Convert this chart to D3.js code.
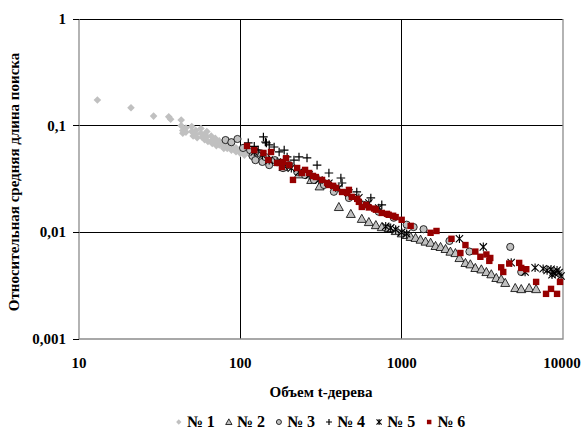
<!DOCTYPE html>
<html>
<head>
<meta charset="utf-8">
<script src="https://cdn.jsdelivr.net/npm/d3@7"></script>
<style>
  body { margin: 0; background: #fff; }
  svg { display: block; }
</style>
</head>
<body>
<svg id="chart" width="582" height="430" font-family="'Liberation Serif', 'DejaVu Serif', serif" font-weight="bold"></svg>
<script>
// series data: [tree size, relative mean search length]
const series1 = [[13,0.174],[21,0.147],[29,0.123],[36,0.121],[37,0.115],[43,0.113],[43,0.100],[44,0.090],[44,0.085],
  [46,0.095],[46,0.087],[50,0.098],[50,0.088],[51,0.080],[53,0.090],[53,0.083],[54,0.077],[57,0.094],[57,0.085],[58,0.078],
  [60,0.082],[60,0.074],[62,0.088],[62,0.079],[63,0.071],[66,0.080],[66,0.072],[67,0.068],[70,0.076],[70,0.069],[71,0.065],
  [74,0.072],[74,0.066],[78,0.070],[78,0.064],[79,0.061],[83,0.067],[83,0.061],[88,0.064],[88,0.059],[94,0.062],[94,0.057],
  [100,0.060],[100,0.055],[106,0.057],[106,0.053],[113,0.055],[120,0.052]];
const series2 = [[150,0.048],[185,0.041],[230,0.035],[275,0.031],[310,0.027],
  [408,0.0173],[484,0.0149],[566,0.0134],[626,0.0125],[692,0.0117],[753,0.0112],[831,0.0110],[918,0.0103],
  [1000,0.0098],[1074,0.00946],[1137,0.00907],[1219,0.00888],[1309,0.00855],[1406,0.0082],[1511,0.0080],[1622,0.00746],
  [1742,0.0073],[1871,0.00699],[2005,0.0066],[2154,0.0064],[2281,0.00575],[2485,0.00517],[2666,0.00502],[2862,0.00464],
  [3118,0.0045],[3350,0.00425],[3594,0.00405],[3860,0.00374],[4140,0.00364],[4385,0.00336],[5057,0.00301],[5510,0.00294],
  [6166,0.00301],[6813,0.00294]];
const series3 = [[81,0.0733],[88,0.070],[96,0.075],[104,0.0618],[115,0.059],[119,0.052],[124,0.0475],[129,0.0555],
  [137,0.0457],[143,0.0508],[151,0.0427],[164,0.0475],[184,0.040],[201,0.0427],[225,0.037],[252,0.0344],[286,0.031],
  [330,0.0278],[380,0.024],[471,0.021],[582,0.0181],[721,0.0156],[893,0.0137],[1074,0.0118],[1186,0.0112],[1367,0.0107],
  [1978,0.0083],[2630,0.0066],[4710,0.0073],[5510,0.00425]];
const series4 = [[112,0.0689],[122,0.064],[129,0.059],[139,0.0784],[143,0.0703],[145,0.0689],[151,0.066],[162,0.0631],
  [174,0.0567],[187,0.059],[195,0.0509],[215,0.0475],[231,0.0509],[259,0.0498],[299,0.0427],[354,0.036],[420,0.0323],
  [427,0.029],[527,0.0239],[644,0.021],[753,0.0181]];
const series5 = [[122,0.0567],[137,0.0531],[151,0.0475],[169,0.0457],[187,0.0418],[207,0.040],[231,0.0368],[267,0.0344],
  [307,0.031],[354,0.0288],[408,0.0261],[471,0.0234],[543,0.0211],[626,0.0188],[721,0.0169],[796,0.0114],[855,0.011],
  [918,0.0106],[1000,0.0100],[1074,0.0097],[2281,0.0087],[3206,0.0073],[4775,0.0052],[5821,0.00425],[6714,0.00465],
  [7530,0.00455],[7969,0.0044],[8430,0.0045],[8550,0.0040],[8670,0.00425],[8930,0.0041],[9186,0.0044],[9450,0.0042],[9730,0.0039]];
const series6 = [[110,0.0645],[122,0.059],[139,0.0555],[149,0.0477],[155,0.0566],[169,0.0447],[181,0.041],[184,0.0457],
  [192,0.0495],[201,0.0427],[212,0.031],[225,0.0401],[241,0.036],[252,0.0385],[267,0.036],[282,0.0338],[294,0.033],
  [321,0.031],[345,0.029],[354,0.0278],[376,0.0273],[392,0.0261],[427,0.0239],[459,0.0234],[471,0.025],[491,0.0215],
  [530,0.0206],[543,0.0193],[566,0.0173],[602,0.0181],[626,0.0171],[675,0.0167],[692,0.0163],[753,0.0152],[811,0.0149],
  [831,0.0146],[885,0.0143],[918,0.0139],[1000,0.0131],[1137,0.0115],[1511,0.0099],[1644,0.0103],[2036,0.0087],
  [2485,0.0076],[2312,0.0064],[2862,0.0066],[3075,0.0059],[3350,0.0062],[3542,0.00575],[3493,0.0054],[4140,0.0047],
  [4263,0.00425],[4642,0.0051],[5349,0.00517],[5510,0.00464],[5920,0.00451],[6813,0.00343],[7850,0.00265],[8430,0.00295],
  [9186,0.00265],[9580,0.00343]];

const xTicks = [10, 100, 1000, 10000];
const yTicks = [0.001, 0.01, 0.1, 1];
const yTickLabels = ["0,001", "0,01", "0,1", "1"];
const legendNames = ["№ 1", "№ 2", "№ 3", "№ 4", "№ 5", "№ 6"];

const grey = "#c0c0c0";
const red = "#960000";

const svg = d3.select("#chart");

const x = d3.scaleLog().domain([10, 10000]).range([79, 563]);
const y = d3.scaleLog().domain([0.001, 1]).range([339, 19]);

// gridlines
svg.append("g").selectAll("line")
  .data(yTicks.slice(1))
  .enter().append("line")
    .attr("x1", x(10)).attr("x2", x(10000))
    .attr("y1", d => y(d)).attr("y2", d => y(d))
    .attr("stroke", "#000").attr("stroke-width", 1).attr("shape-rendering", "crispEdges");

svg.append("g").selectAll("line")
  .data([100, 1000])
  .enter().append("line")
    .attr("x1", d => x(d)).attr("x2", d => x(d))
    .attr("y1", y(1)).attr("y2", y(0.001))
    .attr("stroke", "#000").attr("stroke-width", 1).attr("shape-rendering", "crispEdges");

// plot borders (grey)
svg.append("path")
  .attr("d", `M${x(10)},${y(1)}V${y(0.001)}H${x(10000)}V${y(1)}`)
  .attr("fill", "none").attr("stroke", "#8c8c8c").attr("stroke-width", 1.3);

// y ticks and labels
yTicks.forEach((t, i) => {
  svg.append("line")
    .attr("x1", x(10) - 6).attr("x2", x(10))
    .attr("y1", y(t)).attr("y2", y(t))
    .attr("stroke", "#000").attr("shape-rendering", "crispEdges");
  svg.append("text")
    .attr("x", 66).attr("y", y(t) + 5)
    .attr("text-anchor", "end")
    .attr("font-size", "15px")
    .text(yTickLabels[i]);
});

// x labels
svg.selectAll(".xlab")
  .data(xTicks)
  .enter().append("text")
    .attr("x", d => d === 10000 ? x(d) - 1 : x(d))
    .attr("y", 368)
    .attr("text-anchor", "middle")
    .attr("font-size", "15px")
    .text(d => d);

// axis titles
svg.append("text")
  .attr("x", 321).attr("y", 397)
  .attr("text-anchor", "middle")
  .attr("font-size", "15px")
  .text("Объем t-дерева");

svg.append("text")
  .attr("transform", "translate(19,182) rotate(-90)")
  .attr("text-anchor", "middle")
  .attr("font-size", "15px")
  .text("Относительная средняя длина поиска");

// marker shapes
const markers = [
  { data: series1, path: r => `M0,${-r}L${r},0L0,${r}L${-r},0Z`, r: 3.8, fill: grey, stroke: "none", sw: 0 },
  { data: series2, path: r => `M0,${-r}L${r},${r * 0.8}L${-r},${r * 0.8}Z`, r: 4.5, fill: grey, stroke: "#000", sw: 0.8 },
  { data: series3, path: r => `M${r},0A${r},${r} 0 1,1 ${-r},0A${r},${r} 0 1,1 ${r},0Z`, r: 3.6, fill: grey, stroke: "#000", sw: 0.8 },
  { data: series4, path: r => `M${-r},0H${r}M0,${-r}V${r}`, r: 4.3, fill: "none", stroke: "#000", sw: 1.2 },
  { data: series5, path: r => `M0,${-r}V${r}M${-r * 0.85},${-r * 0.85}L${r * 0.85},${r * 0.85}M${-r * 0.85},${r * 0.85}L${r * 0.85},${-r * 0.85}`, r: 4.3, fill: "none", stroke: "#000", sw: 1.1 },
  { data: series6, path: r => `M${-r},${-r}H${r}V${r}H${-r}Z`, r: 3.2, fill: red, stroke: "none", sw: 0 }
];

markers.forEach(m => {
  svg.append("g").selectAll("path")
    .data(m.data)
    .enter().append("path")
      .attr("transform", d => `translate(${x(d[0])},${y(d[1])})`)
      .attr("d", m.path(m.r))
      .attr("fill", m.fill)
      .attr("stroke", m.stroke)
      .attr("stroke-width", m.sw);
});

// legend
const legend = svg.append("g");
let lx = 0;
legendNames.forEach((name, i) => {
  const m = markers[i];
  const g = legend.append("g").attr("transform", `translate(${lx},0)`);
  g.append("path")
    .attr("transform", "translate(4,-5)")
    .attr("d", m.path(m.r * 0.7))
    .attr("fill", m.fill).attr("stroke", m.stroke).attr("stroke-width", m.sw);
  const t = g.append("text")
    .attr("x", 12).attr("y", 0)
    .attr("font-size", "16px")
    .text(name);
  lx += 12 + t.node().getComputedTextLength() + 10;
});
const lw = lx - 10;
legend.attr("transform", `translate(${320 - lw / 2},427)`);
</script>
</body>
</html>
